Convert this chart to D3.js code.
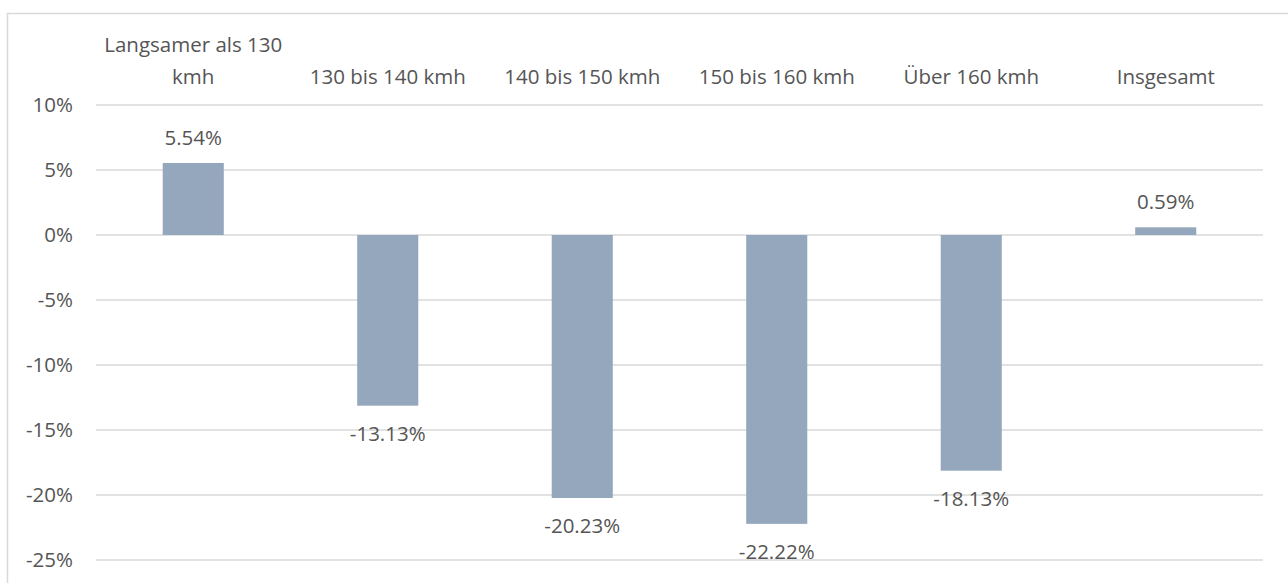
<!DOCTYPE html>
<html>
<head>
<meta charset="utf-8">
<script src="https://cdn.jsdelivr.net/npm/d3@7"></script>
<style>
  body { margin: 0; background: #fff; }
  svg { display: block; font-family: "Open Sans", sans-serif; }
</style>
</head>
<body>
<svg id="chart"></svg>
<script>
var categories = ['Langsamer als 130 kmh', '130 bis 140 kmh', '140 bis 150 kmh', '150 bis 160 kmh', 'Über 160 kmh', 'Insgesamt']
var categoryLines = [['Langsamer als 130', 'kmh'], ['130 bis 140 kmh'], ['140 bis 150 kmh'], ['150 bis 160 kmh'], ['Über 160 kmh'], ['Insgesamt']]
var values = [5.54, -13.13, -20.23, -22.22, -18.13, 0.59]
var yTicks = [10, 5, 0, -5, -10, -15, -20, -25]

var width = 1288, height = 583
var textColor = '#555555', gridColor = '#d9d9d9', barColor = '#94a7bc'
var fontSize = '20.5px'

var svg = d3.select('#chart')
    .attr('width', width)
    .attr('height', height)

// outer chart border (right/bottom edges fall outside the picture)
svg.append('rect')
    .attr('x', 7.5).attr('y', 13.5)
    .attr('width', width).attr('height', height)
    .attr('fill', 'none')
    .attr('stroke', gridColor)
    .attr('stroke-width', 1.5)

var xScale = d3.scaleBand()
    .domain(categories)
    .range([96, 1263])
    .paddingInner(0.686)
    .paddingOuter(0.343)

var yScale = d3.scaleLinear()
    .domain([-25, 10])
    .range([560, 105])

// gridlines
svg.append('g')
    .selectAll('line')
    .data(yTicks)
    .enter()
    .append('line')
    .attr('x1', 96).attr('x2', 1263)
    .attr('y1', function (d) { return yScale(d) })
    .attr('y2', function (d) { return yScale(d) })
    .attr('stroke', gridColor)
    .attr('stroke-width', 1.5)

// y axis labels
var yAxis = d3.axisLeft(yScale)
    .tickValues(yTicks)
    .tickSize(0)
    .tickPadding(0)
    .tickFormat(function (d) { return d + '%' })

var yAxisG = svg.append('g')
    .attr('transform', 'translate(73,0)')
    .call(yAxis)
yAxisG.select('.domain').remove()
yAxisG.selectAll('text')
    .attr('fill', textColor)
    .style('font-size', fontSize)
    .style('font-family', '"Open Sans", sans-serif')

// bars
svg.append('g')
    .selectAll('rect')
    .data(values)
    .enter()
    .append('rect')
    .attr('x', function (d, i) { return xScale(categories[i]) })
    .attr('width', xScale.bandwidth())
    .attr('y', function (d) { return yScale(Math.max(0, d)) })
    .attr('height', function (d) { return Math.abs(yScale(d) - yScale(0)) })
    .attr('fill', barColor)

// value labels
svg.append('g')
    .selectAll('text')
    .data(values)
    .enter()
    .append('text')
    .attr('x', function (d, i) { return xScale(categories[i]) + xScale.bandwidth() / 2 })
    .attr('y', function (d) { return d >= 0 ? yScale(d) - 18 : yScale(d) + 35 })
    .attr('text-anchor', 'middle')
    .attr('fill', textColor)
    .style('font-size', fontSize)
    .text(function (d) { return d.toFixed(2) + '%' })

// category labels on top
var catG = svg.append('g')
    .selectAll('text')
    .data(categoryLines)
    .enter()
    .append('text')
    .attr('x', function (d, i) { return xScale(categories[i]) + xScale.bandwidth() / 2 })
    .attr('y', 84)
    .attr('text-anchor', 'middle')
    .attr('fill', textColor)
    .style('font-size', fontSize)

catG.selectAll('tspan')
    .data(function (d) { return d.slice().reverse().map(function (t, j) { return { t: t, j: j } }) })
    .enter()
    .append('tspan')
    .attr('x', function () { return this.parentNode.getAttribute('x') })
    .attr('y', function (d) { return 84 - d.j * 32 })
    .text(function (d) { return d.t })
</script>
</body>
</html>
